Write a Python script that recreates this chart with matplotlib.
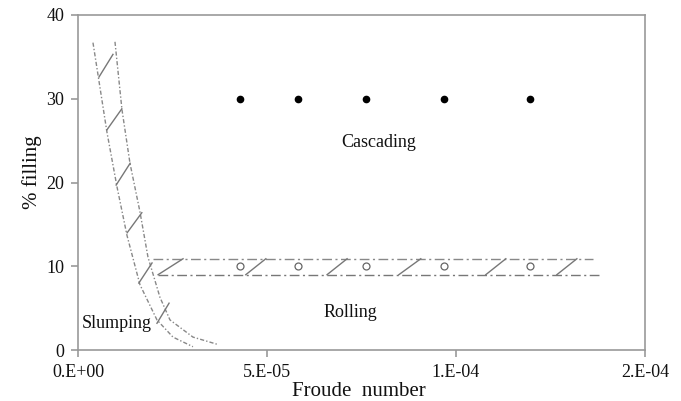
import numpy as np
import matplotlib.pyplot as plt

plt.rcParams['font.family'] = ['Liberation Serif', 'DejaVu Serif']

# measured points (Froude number, % filling)
casc_x = [4.29e-5, 5.82e-5, 7.62e-5, 9.68e-5, 1.196e-4]
casc_y = [30, 30, 30, 30, 30]
roll_x = [4.29e-5, 5.82e-5, 7.62e-5, 9.68e-5, 1.196e-4]
roll_y = [10, 10, 10, 10, 10]

# slumping/rolling boundary band (two curves)
slump_left_x = [3.97e-6, 7.67e-6, 1.032e-5, 1.296e-5, 1.64e-5, 2.09e-5, 2.513e-5, 3.042e-5]
slump_left_y = [36.7, 26.0, 19.5, 13.7, 7.8, 3.6, 1.55, 0.4]
slump_right_x = [9.79e-6, 1.164e-5, 1.376e-5, 1.64e-5, 1.852e-5, 2.169e-5, 2.434e-5, 3.042e-5, 3.677e-5]
slump_right_y = [36.8, 28.7, 22.3, 16.5, 11.1, 6.3, 3.6, 1.55, 0.7]

# rolling/cascading boundary band
band_upper_x = [1.98e-5, 1.362e-4]
band_upper_y = [10.9, 10.9]
band_lower_x = [2.12e-5, 1.386e-4]
band_lower_y = [9.0, 9.0]

# hatch strokes
slump_hatch_x0 = [5.56e-6, 7.67e-6, 1.01e-5, 1.30e-5, 1.61e-5, 2.09e-5]
slump_hatch_y0 = [32.6, 26.3, 19.7, 14.0, 8.0, 3.2]
slump_hatch_x1 = [9.26e-6, 1.16e-5, 1.38e-5, 1.69e-5, 1.96e-5, 2.41e-5]
slump_hatch_y1 = [35.3, 28.8, 22.3, 16.4, 10.4, 5.6]
band_hatch_x0 = [2.12e-5, 4.44e-5, 6.59e-5, 8.49e-5, 1.079e-4, 1.267e-4]
band_hatch_x1 = [2.78e-5, 4.97e-5, 7.12e-5, 9.07e-5, 1.132e-4, 1.320e-4]

xticks = [0, 5e-5, 1e-4, 1.5e-4]
xticklabels = ['0.E+00', '5.E-05', '1.E-04', '2.E-04']
yticks = [0, 10, 20, 30, 40]

fig = plt.figure(figsize=(6.81, 4.01), dpi=100)
ax = fig.add_axes([0.1145, 0.127, 0.8325, 0.8356])

curve_ls = (0, (3, 1.5, 1, 1.5))
band_ls = (0, (7, 2.5, 1.5, 2.5))
ax.plot(slump_left_x, slump_left_y, color='#888888', lw=1, ls=curve_ls)
ax.plot(slump_right_x, slump_right_y, color='#888888', lw=1, ls=curve_ls)
ax.plot(band_upper_x, band_upper_y, color='#888888', lw=1, ls=band_ls)
ax.plot(band_lower_x, band_lower_y, color='#777777', lw=1, ls=band_ls)

for x0, y0, x1, y1 in zip(slump_hatch_x0, slump_hatch_y0, slump_hatch_x1, slump_hatch_y1):
    ax.plot([x0, x1], [y0, y1], color='#777777', lw=1)
for x0, x1 in zip(band_hatch_x0, band_hatch_x1):
    ax.plot([x0, x1], [band_lower_y[0], band_upper_y[0]], color='#777777', lw=1)

ax.plot(casc_x, casc_y, 'o', color='black', ms=4.5)
ax.plot(roll_x, roll_y, 'o', mfc='white', mec='#666666', mew=0.9, ms=5)

ax.text(7.96e-5, 24.8, 'Cascading', fontsize=13, ha='center', va='center', color='#111111')
ax.text(7.22e-5, 4.5, 'Rolling', fontsize=13, ha='center', va='center', color='#111111')
ax.text(1.03e-5, 3.2, 'Slumping', fontsize=13, ha='center', va='center', color='#111111')

ax.set_xlim(0, 1.5e-4)
ax.set_ylim(0, 40)
ax.set_xticks(xticks)
ax.set_xticklabels(xticklabels)
ax.set_yticks(yticks)
for s in ax.spines.values():
    s.set_color('#999999')
    s.set_linewidth(1.2)
ax.tick_params(direction='out', length=5, width=1.2, color='#999999',
               labelsize=13, labelcolor='#111111', pad=5)
ax.set_xlabel('Froude  number', fontsize=15, color='#111111')
ax.set_ylabel('% filling', fontsize=15, color='#111111')
ax.xaxis.set_label_coords(0.4956, -0.095)
ax.yaxis.set_label_coords(-0.081, 0.531)
ax.yaxis.label.set_va('center')

fig.savefig('out.png', dpi=100)
